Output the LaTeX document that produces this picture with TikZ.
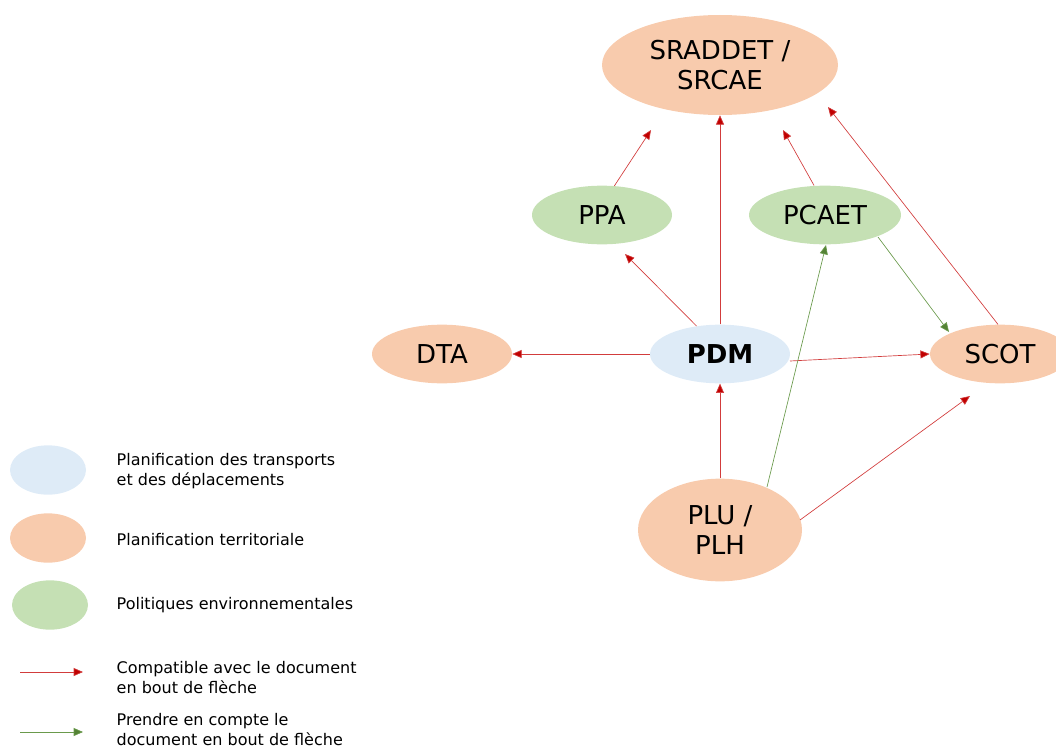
\documentclass[tikz,border=0pt]{standalone}
\usepackage{fontspec}
\setmainfont{DejaVu Sans}
\usetikzlibrary{arrows.meta,shapes.geometric}

\definecolor{orangefill}{HTML}{F8CBAD}
\definecolor{bluefill}{HTML}{DEEBF7}
\definecolor{greenfill}{HTML}{C5E0B4}
\definecolor{redline}{HTML}{D23C3C}
\definecolor{redhead}{HTML}{C00000}
\definecolor{greenline}{HTML}{6A9A4C}
\definecolor{greenhead}{HTML}{548235}

\begin{document}
\begin{tikzpicture}[
  x=0.75pt, y=-0.75pt,
  doc/.style={ellipse, draw=none, inner sep=0pt, align=center,
              font=\fontsize{19.5}{22}\selectfont},
  ter/.style={doc, fill=orangefill},
  trn/.style={doc, fill=bluefill},
  env/.style={doc, fill=greenfill},
  key/.style={ellipse, draw=none, minimum width=57pt, minimum height=37pt},
  txt/.style={anchor=west, align=left, font=\fontsize{12}{15}\selectfont},
  comp/.style={-{Triangle[length=7pt,width=6pt,fill=redhead]}, draw=redline, line width=0.5pt},
  pris/.style={-{Triangle[length=7pt,width=6pt,fill=greenhead]}, draw=greenline, line width=0.5pt}
]
\useasboundingbox (0,0) rectangle (1056,749);

% documents
\node[ter, minimum width=177pt, minimum height=75pt] (sraddet) at (720,65) {SRADDET /\\SRCAE};
\node[env, minimum width=105pt, minimum height=44pt] (ppa)   at (602,215) {PPA};
\node[env, minimum width=114pt, minimum height=44pt] (pcaet) at (825,215) {PCAET};
\node[ter, minimum width=105pt, minimum height=44pt] (dta)   at (442,354) {DTA};
\node[trn, minimum width=105pt, minimum height=44pt] (pdm)   at (720,354) {\bfseries PDM};
\node[ter, minimum width=105pt, minimum height=44pt] (scot)  at (1000,354) {SCOT};
\node[ter, minimum width=123pt, minimum height=77pt] (plu)   at (720,530) {PLU /\\PLH};

% free ends
\coordinate (ppatip)   at (651,130);
\coordinate (pcaettip) at (783,130);
\coordinate (scottip)  at (828,107);
\coordinate (plutip)   at (970,396);

% compatibilite
\draw[comp] (ppa.67) -- (ppatip);
\draw[comp] (pcaet.north) ++(-11,0) -- (pcaettip);
\draw[comp] (pdm.north) -- (sraddet.south);
\draw[comp] (scot.north) ++(-2,0) -- (scottip);
\draw[comp] (pdm.130) -- (625,254);
\draw[comp] (pdm.west) -- (dta.east);
\draw[comp] (790,361) -- (scot.west);
\draw[comp] (plu.north) -- (pdm.south);
\draw[comp] (800,520) -- (plutip);

% prise en compte
\draw[pris] (767,487) -- (826,245);
\draw[pris] (878,237) -- (949,332);

% legende
\node[key, fill=bluefill]   (k1) at (48,470) {};
\node[key, fill=orangefill] (k2) at (48,538) {};
\node[key, fill=greenfill]  (k3) at (50,605) {};
\node[txt] (t1) at (112,471) {Planification des transports\\et des déplacements};
\node[txt] (t2) at (112,540) {Planification territoriale};
\node[txt] (t3) at (112,605) {Politiques environnementales};
\node[txt] (t4) at (112,678) {Compatible avec le document\\en bout de flèche};
\node[txt] (t5) at (112,730) {Prendre en compte le\\document en bout de flèche};
\coordinate (c1) at (20,672);
\coordinate (c2) at (83,672);
\coordinate (p1) at (20,732);
\coordinate (p2) at (83,732);
\draw[comp] (c1) -- (c2);
\draw[pris] (p1) -- (p2);
\end{tikzpicture}
\end{document}
